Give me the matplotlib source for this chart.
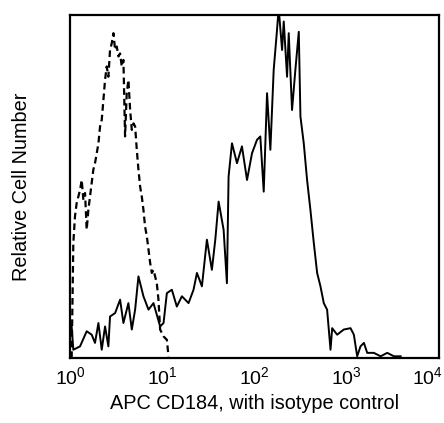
import numpy as np
import matplotlib
matplotlib.use("Agg")
import matplotlib.pyplot as plt
import matplotlib.transforms as mtransforms

plt.rcParams['font.family'] = ['Liberation Sans', 'DejaVu Sans']
plt.rcParams['mathtext.fontset'] = 'custom'
plt.rcParams['mathtext.rm'] = 'Liberation Sans'
plt.rcParams['mathtext.it'] = 'Liberation Sans'

# CD184 stained cells (log10 of fluorescence, relative count)
stain_dec = [0.00, 0.018, 0.036, 0.109, 0.181, 0.235, 0.271, 0.308, 0.344, 0.380,
             0.416, 0.434, 0.489, 0.543, 0.579, 0.633, 0.670, 0.706, 0.742, 0.796,
             0.851, 0.905, 0.977, 1.014, 1.050, 1.104, 1.158, 1.213, 1.285, 1.339,
             1.376, 1.430, 1.484, 1.538, 1.575, 1.611, 1.665, 1.701, 1.719, 1.756,
             1.810, 1.864, 1.919, 1.973, 2.027, 2.063, 2.100, 2.136, 2.172, 2.208,
             2.244, 2.262, 2.299, 2.317, 2.353, 2.371, 2.407, 2.443, 2.480, 2.498,
             2.534, 2.570, 2.606, 2.643, 2.679, 2.715, 2.751, 2.787, 2.824, 2.842,
             2.896, 2.968, 3.041, 3.077, 3.113, 3.149, 3.186, 3.222, 3.294, 3.367,
             3.439, 3.511, 3.584]
stain_cnt = [9.2, 9.2, 2.4, 3.4, 7.8, 6.8, 4.4, 10.2, 2.4, 9.2,
             3.4, 12.1, 13.1, 17.0, 10.2, 16.0, 8.3, 14.1, 23.8, 18.0,
             14.1, 16.0, 9.2, 10.2, 18.9, 19.9, 15.0, 18.0, 16.0, 19.9,
             24.8, 20.9, 34.5, 25.7, 34.5, 45.6, 37.4, 21.8, 52.9, 62.6,
             56.8, 61.7, 51.9, 59.7, 63.6, 64.6, 48.5, 77.2, 60.7, 84.0,
             95.6, 102.0, 89.8, 98.1, 82.0, 94.7, 72.3, 84.0, 95.1, 70.4,
             62.6, 51.9, 43.2, 33.5, 24.8, 20.9, 16.0, 14.1, 2.4, 8.7,
             6.8, 8.3, 8.7, 6.8, 0.5, 3.4, 4.4, 1.5, 1.5, 0.5,
             1.5, 0.5, 0.5]

# isotype control
iso_dec = [0.018, 0.036, 0.054, 0.072, 0.109, 0.127, 0.145, 0.163, 0.181, 0.199,
           0.217, 0.235, 0.253, 0.271, 0.290, 0.308, 0.326, 0.344, 0.362, 0.380,
           0.398, 0.416, 0.434, 0.452, 0.471, 0.489, 0.507, 0.525, 0.543, 0.561,
           0.579, 0.597, 0.615, 0.633, 0.652, 0.670, 0.688, 0.706, 0.724, 0.742,
           0.760, 0.778, 0.796, 0.814, 0.833, 0.851, 0.869, 0.887, 0.905, 0.941,
           0.959, 0.977, 1.014, 1.050, 1.068]
iso_cnt = [0.0, 33.5, 41.3, 45.1, 49.0, 51.9, 46.1, 48.1, 37.4, 43.2,
           47.1, 51.0, 54.9, 56.8, 59.7, 62.6, 67.5, 69.4, 75.2, 81.1,
           85.0, 82.0, 89.8, 91.7, 94.7, 89.8, 90.8, 87.9, 88.8, 85.0,
           86.9, 64.6, 77.2, 81.1, 72.3, 66.5, 68.4, 67.5, 60.7, 54.9,
           50.0, 47.1, 43.2, 38.3, 35.4, 31.6, 27.7, 24.8, 25.7, 21.8,
           17.0, 8.3, 6.3, 5.3, 0.5]

fig = plt.figure(figsize=(4.44, 4.23), dpi=100)
ax = fig.add_axes([70 / 444, 65 / 423, 369 / 444, 343 / 423])

ax.plot(10 ** np.array(stain_dec), stain_cnt, color='black', lw=1.4)
ax.plot(10 ** np.array(iso_dec), iso_cnt, color='black', lw=1.6,
        linestyle=(0, (3, 1.8)))

ax.set_xscale('log')
ax.set_xlim(1, 1e4)
ax.set_ylim(0, 100)
ax.set_xticks([1, 10, 100, 1000, 10000])
ax.minorticks_off()
ax.set_yticks([])
ax.tick_params(axis='x', length=0, pad=6, labelsize=14)
for s in ax.spines.values():
    s.set_linewidth(1.6)

# last label pulled in so it stays on the canvas
last = ax.get_xticklabels()[-1]
last.set_transform(last.get_transform() +
                   mtransforms.ScaledTranslation(-12 / 100, 0, fig.dpi_scale_trans))

ax.set_xlabel('APC CD184, with isotype control', fontsize=14.3, labelpad=4)
ax.set_ylabel('Relative Cell Number', fontsize=14.3, labelpad=28)

fig.savefig('out.png', dpi=100)
